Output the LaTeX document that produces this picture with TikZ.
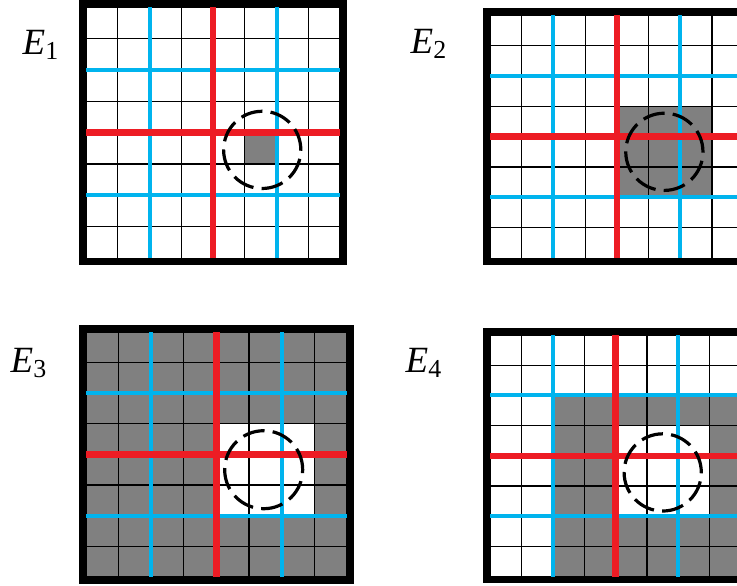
\documentclass[tikz,border=0pt]{standalone}
\usepackage{amsmath,amssymb}
\usepackage{xcolor}
\usepackage{fontspec}
\setmainfont{Liberation Serif}
\usepackage{tikz}

\definecolor{lineblue}{HTML}{00B4EE}
\definecolor{linered}{HTML}{ED1C24}
\definecolor{cellgray}{HTML}{808080}

\tikzset{
  cellline/.style={black, line width=0.6pt},
  blueline/.style={lineblue, line width=2pt},
  redline/.style={linered, line width=3.3pt},
  frame/.style={black, line width=3.4pt},
  window/.style={black, line width=1.6pt, dash pattern=on 11pt off 4.1pt},
  label/.style={anchor=base west, inner sep=0pt, scale=1.85}
}

\begin{document}
\begin{tikzpicture}[x=0.5pt, y=-0.5pt]
  \clip (0,0) rectangle (737,585);
  \fill[white] (0,0) rectangle (737,585);

  % ==========================================
  % E1: one gray cell
  % ==========================================
  \node[label] (labelA) at (22,54) {\textit{E}$_{\textup{1}}$};
  \begin{scope}[shift={(86,7)}, x=15.875pt, y=-15.7pt]
    % gray cell
    \fill[cellgray] (5,4) rectangle (6,5);
    % grid lines
    \foreach \i in {0,...,8} {
      \draw[cellline] (\i,0) -- (\i,8);
      \draw[cellline] (0,\i) -- (8,\i);
    }
    % blue and red lines
    \foreach \i in {2,6} {
      \draw[blueline] (\i,0) -- (\i,8);
      \draw[blueline] (0,\i) -- (8,\i);
    }
    \draw[redline] (4,0) -- (4,8) (0,4) -- (8,4);
    % border and window
    \draw[frame] (-0.11,-0.11) rectangle (8.11,8.11);
    \draw[window] (5.55,4.55) circle[radius=19.3pt];
  \end{scope}

  % ==========================================
  % E2: 3x3 gray block
  % ==========================================
  \node[label] (labelB) at (410,53) {\textit{E}$_{\textup{2}}$};
  \begin{scope}[shift={(490,15)}, x=15.85pt, y=-15.2pt]
    % gray block
    \fill[cellgray] (4,3) rectangle (7,6);
    % grid lines
    \foreach \i in {0,...,8} {
      \draw[cellline] (\i,0) -- (\i,8);
      \draw[cellline] (0,\i) -- (8,\i);
    }
    % blue and red lines
    \foreach \i in {2,6} {
      \draw[blueline] (\i,0) -- (\i,8);
      \draw[blueline] (0,\i) -- (8,\i);
    }
    \draw[redline] (4,0) -- (4,8) (0,4) -- (8,4);
    % border and window
    \draw[frame] (-0.11,-0.11) rectangle (8.11,8.11);
    \draw[window] (5.5,4.5) circle[radius=19.3pt];
  \end{scope}

  % ==========================================
  % E3: all gray but the 3x3 block
  % ==========================================
  \node[label] (labelC) at (10,372) {\textit{E}$_{\textup{3}}$};
  \begin{scope}[shift={(86,332)}, x=16.3pt, y=-15.3pt]
    % gray area
    \fill[cellgray] (0,0) rectangle (8,8);
    \fill[white] (4,3) rectangle (7,6);
    % grid lines
    \foreach \i in {0,...,8} {
      \draw[cellline] (\i,0) -- (\i,8);
      \draw[cellline] (0,\i) -- (8,\i);
    }
    % blue and red lines
    \foreach \i in {2,6} {
      \draw[blueline] (\i,0) -- (\i,8);
      \draw[blueline] (0,\i) -- (8,\i);
    }
    \draw[redline] (4,0) -- (4,8) (0,4) -- (8,4);
    % border and window
    \draw[frame] (-0.11,-0.11) rectangle (8.11,8.11);
    \draw[window] (5.45,4.5) circle[radius=19.5pt];
  \end{scope}

  % ==========================================
  % E4: gray ring round the 3x3 block
  % ==========================================
  \node[label] (labelD) at (405,372) {\textit{E}$_{\textup{4}}$};
  \begin{scope}[shift={(490,335)}, x=15.7pt, y=-15.1pt]
    % gray area
    \fill[cellgray] (2,2) rectangle (8,8);
    \fill[white] (4,3) rectangle (7,6);
    % grid lines
    \foreach \i in {0,...,8} {
      \draw[cellline] (\i,0) -- (\i,8);
      \draw[cellline] (0,\i) -- (8,\i);
    }
    % blue and red lines
    \foreach \i in {2,6} {
      \draw[blueline] (\i,0) -- (\i,8);
      \draw[blueline] (0,\i) -- (8,\i);
    }
    \draw[redline] (4,0) -- (4,8) (0,4) -- (8,4);
    % border and window
    \draw[frame] (-0.11,-0.11) rectangle (8.11,8.11);
    \draw[window] (5.5,4.55) circle[radius=19.3pt];
  \end{scope}

\end{tikzpicture}
\end{document}
